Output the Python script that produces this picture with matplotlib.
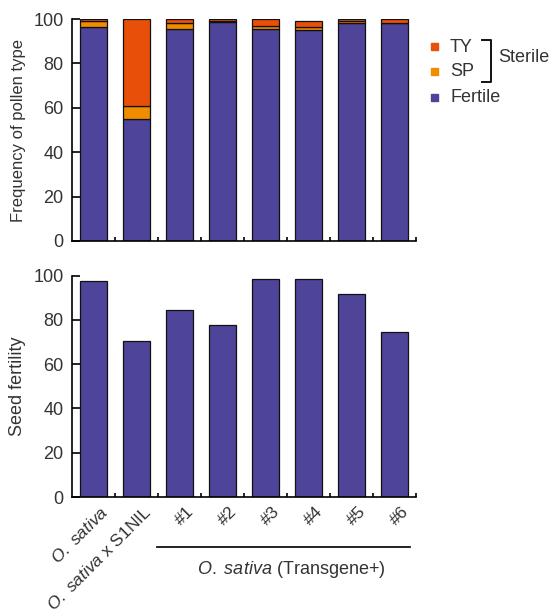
import numpy as np
import matplotlib
matplotlib.use("Agg")
import matplotlib.pyplot as plt
from matplotlib.patches import Rectangle

plt.rcParams["font.family"] = ["Liberation Sans", "DejaVu Sans"]
plt.rcParams["mathtext.fontset"] = "custom"
plt.rcParams["mathtext.rm"] = "Liberation Sans"
plt.rcParams["mathtext.it"] = "Liberation Sans:italic"

# ---- data ------------------------------------------------------------------
samples = ["O. sativa", "O. sativa x S1NIL", "#1", "#2", "#3", "#4", "#5", "#6"]
fertile = [96.5, 55.0, 95.3, 98.8, 95.3, 95.0, 98.0, 98.0]
sp = [2.8, 6.0, 3.0, 0.3, 1.5, 1.4, 0.9, 0.3]
ty = [0.7, 39.0, 1.7, 0.9, 3.2, 2.5, 1.1, 1.7]
seed_fertility = [97.4, 70.7, 84.7, 77.7, 98.3, 98.3, 91.7, 74.4]
tick_labels = [0, 20, 40, 60, 80, 100]

C_FERT = "#4e4499"
C_SP = "#f08c00"
C_TY = "#e8500a"
TXT = "#333333"
FS = 13

fig = plt.figure(figsize=(5.53, 6.14), dpi=100)
W, H = 553, 614


def px_axes(left, top, right, bottom):
    return fig.add_axes([left / W, 1 - bottom / H, (right - left) / W, (bottom - top) / H])


ax1 = px_axes(72, 19, 416, 241)
ax2 = px_axes(72, 275.7, 416, 497)

x = np.arange(len(samples))
bw = 0.63
edge = dict(edgecolor="#111111", linewidth=0.9)
fert = np.array(fertile)
spv = np.array(sp)
ax1.bar(x, fert, bw, color=C_FERT, **edge)
ax1.bar(x, spv, bw, bottom=fert, color=C_SP, **edge)
ax1.bar(x, ty, bw, bottom=fert + spv, color=C_TY, **edge)
ax2.bar(x, seed_fertility, bw, color=C_FERT, **edge)

for ax, lab, lfs in ((ax1, "Frequency of pollen type", 12), (ax2, "Seed fertility", 13)):
    ax.set_xlim(-0.5, len(samples) - 0.5)
    ax.set_ylim(0, 100)
    ax.set_yticks(tick_labels)
    ax.set_yticklabels([str(t) for t in tick_labels], color=TXT, fontsize=FS)
    ax.set_xticks(np.arange(len(samples)) + 0.5)
    ax.set_xticklabels([])
    ax.tick_params(axis="y", direction="in", length=6, width=1.2, pad=6)
    ax.tick_params(axis="x", direction="in", length=3, width=1.2)
    for s in ("top", "right"):
        ax.spines[s].set_visible(False)
    for s in ("left", "bottom"):
        ax.spines[s].set_linewidth(1.2)
    ax.set_ylabel(lab, color=TXT, fontsize=lfs)
    ax.yaxis.set_label_coords(-46 / 344, 0.5)

# x labels, rotated
xlabels = [r"$\it{O.\ sativa}$", r"$\it{O.\ sativa}$ x S1NIL"] + samples[2:]
for i, lab in enumerate(xlabels):
    ax2.text(i + 0.15, -0.03, lab, transform=ax2.get_xaxis_transform(),
             rotation=45, ha="right", va="top", rotation_mode="anchor",
             fontsize=12.5, color=TXT)

# overlay in pixel coordinates for legend / group bracket
ov = fig.add_axes([0, 0, 1, 1])
ov.set_xlim(0, W)
ov.set_ylim(H, 0)
ov.axis("off")

ov.plot([157, 410], [547, 547], color="#111111", lw=1.3)
ov.text(291, 569, r"$\it{O.\ sativa}$ (Transgene+)", ha="center", va="center",
        fontsize=FS, color=TXT)

leg = [("TY", C_TY, 46), ("SP", C_SP, 71), ("Fertile", C_FERT, 97)]
for name, col, yy in leg:
    ov.add_patch(Rectangle((431, yy - 3.5), 7, 7, color=col))
    ov.text(450, yy + 1, name, va="center", ha="left", fontsize=FS, color=TXT)
ov.plot([482, 490.5, 490.5, 482], [39.5, 39.5, 81.5, 81.5], color="#111111", lw=1.4)
ov.text(498, 57, "Sterile", va="center", ha="left", fontsize=FS, color=TXT)

fig.savefig("out.png", dpi=100)
